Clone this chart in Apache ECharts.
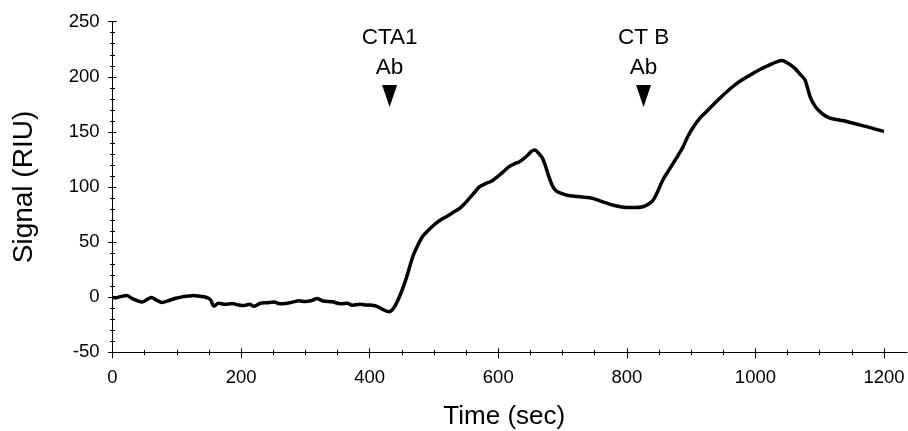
<!DOCTYPE html>
<html lang="en">
<head>
    <meta charset="utf-8">
    <title>Signal vs Time</title>
    <script src="https://cdn.jsdelivr.net/npm/echarts@6/dist/echarts.min.js"></script>
    <style>
        html, body { margin: 0; padding: 0; background: #fff; }
    </style>
</head>
<body>
<div id="main" style="width: 908px;height:431px;"></div>

<script>
    // time (sec) and signal (RIU)
    let timeSec = [0, 5, 12, 22, 30, 38, 46, 54, 61, 68, 77, 88, 98, 108, 118, 126, 136, 145, 152, 158,
        165, 175, 186, 196, 205, 213, 220, 230, 240, 251, 260, 269, 280, 290, 300, 310, 318, 328, 342, 355,
        365, 373, 385, 395, 404, 412, 420, 430, 437, 446, 456, 467, 474, 482, 490, 500, 510, 519, 530, 540,
        548, 555, 563, 571, 580, 590, 602, 610, 617, 625, 633, 640, 646, 652, 657, 663, 669, 674, 679, 685,
        691, 698, 707, 716, 730, 747, 760, 773, 786, 799, 812, 825, 834, 841, 848, 856, 864, 872, 880, 887,
        895, 903, 913, 924, 934, 950, 965, 980, 997, 1010, 1023, 1033, 1041, 1050, 1061, 1070, 1077, 1081, 1085, 1090,
        1095, 1105, 1116, 1130, 1142, 1158, 1173, 1185, 1197, 1200];
    let signal = [0, -0.5, 0.5, 1.5, -1, -3, -4.3, -2, -0.3, -2.5, -4.8, -3, -1, 0.3, 1, 1.5, 0.8, 0, -2, -8,
        -5.5, -6.5, -5.8, -7, -7.5, -6.5, -8.2, -5.5, -5, -4.3, -6, -5.8, -4.5, -3.3, -4, -3, -1.2, -3.5, -4.2, -6,
        -5.5, -7.3, -6.5, -7, -7.3, -8.5, -11, -13.3, -10, 0, 15.5, 36.7, 46, 54.8, 60, 65.5, 70, 73, 77, 80.6,
        85, 89.7, 95, 100.3, 103, 105.5, 110.9, 115, 118.5, 121, 123, 126, 129, 132.5, 133.6, 130.5, 126, 118, 109, 100.3,
        96, 94.3, 92.5, 91.8, 91, 89.7, 87, 84.5, 82.5, 81.5, 81.3, 82.1, 84.5, 88.2, 96, 106.4, 114, 121.5, 129, 136,
        146, 154, 162, 168.5, 174.5, 183.5, 191.2, 197.5, 203.4, 207.5, 211, 213.5, 214.8, 212.5, 207.9, 202, 197.3, 190, 182.1, 176,
        171.5, 166, 162.5, 160.8, 159.4, 157, 154.8, 152.8, 150.9, 150.5];

    // injection markers
    let markTime = [431, 826];
    let markSignal = [182.6, 182.6];
    let markText = ['CTA1\nAb', 'CT B\nAb'];

    let xTicks = {min: 0, max: 1200, interval: 200};
    let yTicks = {min: -50, max: 250, interval: 50};

    let lineData = [];
    for (let i = 0; i < timeSec.length; i++) {
        lineData.push([timeSec[i], signal[i]]);
    }
    let markData = [];
    for (let i = 0; i < markTime.length; i++) {
        markData.push({value: [markTime[i], markSignal[i]], label: {formatter: markText[i]}});
    }

    let font = 'Liberation Sans, Arial, sans-serif';
    let plain = function (v) { return String(v); };
    let myChart = echarts.init(document.getElementById('main'));

    let option = {
        animation: false,
        backgroundColor: '#fff',
        grid: [
            {left: 112.5, right: 24, top: 21.7, bottom: 78.7, outerBoundsMode: 'none'},
            {left: 112.5, right: 1, top: 21.7, bottom: 78.7, outerBoundsMode: 'none'}  // only for the longer x axis line
        ],
        xAxis: [
            {
                type: 'value', gridIndex: 0, position: 'bottom',
                min: xTicks.min, max: xTicks.max, interval: xTicks.interval,
                name: 'Time (sec)', nameLocation: 'middle', nameGap: 52,
                nameTextStyle: {fontFamily: font, fontSize: 26, color: '#000', padding: [0, 0, 0, 12]},
                axisLine: {show: true, onZero: false, lineStyle: {color: '#000', width: 1}},
                axisTick: {show: true, inside: false, length: 6, lineStyle: {color: '#000'}},
                minorTick: {show: true, splitNumber: 4, length: 3, lineStyle: {color: '#000'}},
                axisLabel: {fontFamily: font, fontSize: 18.5, color: '#000', margin: 16, formatter: plain},
                splitLine: {show: false}
            },
            {
                type: 'value', gridIndex: 0, position: 'bottom',
                min: xTicks.min, max: xTicks.max, interval: xTicks.interval,
                axisLine: {show: false, onZero: false},
                axisTick: {show: true, inside: true, length: 4, lineStyle: {color: '#000'}},
                minorTick: {show: true, splitNumber: 4, length: 2.5, lineStyle: {color: '#000'}},
                axisLabel: {show: false},
                splitLine: {show: false}
            },
            {
                type: 'value', gridIndex: 1, position: 'bottom', min: 0, max: 1,
                axisLine: {show: true, onZero: false, lineStyle: {color: '#000', width: 1}},
                axisTick: {show: false}, axisLabel: {show: false}, splitLine: {show: false}
            }
        ],
        yAxis: [
            {
                type: 'value', gridIndex: 0, position: 'left',
                min: yTicks.min, max: yTicks.max, interval: yTicks.interval,
                name: 'Signal (RIU)', nameLocation: 'middle', nameGap: 74, nameRotate: 90,
                nameTextStyle: {fontFamily: font, fontSize: 28, color: '#000'},
                axisLine: {show: true, onZero: false, lineStyle: {color: '#000', width: 1}},
                axisTick: {show: true, inside: false, length: 4.5, lineStyle: {color: '#000'}},
                minorTick: {show: true, splitNumber: 5, length: 2.5, lineStyle: {color: '#000'}},
                axisLabel: {fontFamily: font, fontSize: 18.5, color: '#000', margin: 13, formatter: plain},
                splitLine: {show: false}
            },
            {
                type: 'value', gridIndex: 0, position: 'left',
                min: yTicks.min, max: yTicks.max, interval: yTicks.interval,
                axisLine: {show: false, onZero: false},
                axisTick: {show: true, inside: true, length: 4, lineStyle: {color: '#000'}},
                minorTick: {show: true, splitNumber: 5, length: 2.5, lineStyle: {color: '#000'}},
                axisLabel: {show: false},
                splitLine: {show: false}
            },
            {
                type: 'value', gridIndex: 1, position: 'left', min: 0, max: 1,
                axisLine: {show: false, onZero: false}, axisTick: {show: false},
                axisLabel: {show: false}, splitLine: {show: false}
            }
        ],
        series: [
            {
                name: 'Signal',
                type: 'line',
                xAxisIndex: 0, yAxisIndex: 0,
                data: lineData,
                showSymbol: false,
                smooth: 0.3,
                lineStyle: {color: '#000', width: 3.5},
                z: 3
            },
            {
                name: 'Injection',
                type: 'scatter',
                xAxisIndex: 0, yAxisIndex: 0,
                data: markData,
                symbol: 'triangle',
                symbolRotate: 180,
                symbolSize: [15, 22],
                itemStyle: {color: '#000', opacity: 1},
                label: {
                    show: true, position: 'top', distance: 2,
                    fontFamily: font, fontSize: 22.5, lineHeight: 30, color: '#000', align: 'center'
                },
                z: 4
            }
        ]
    };
    myChart.setOption(option);
</script>
</body>
</html>
